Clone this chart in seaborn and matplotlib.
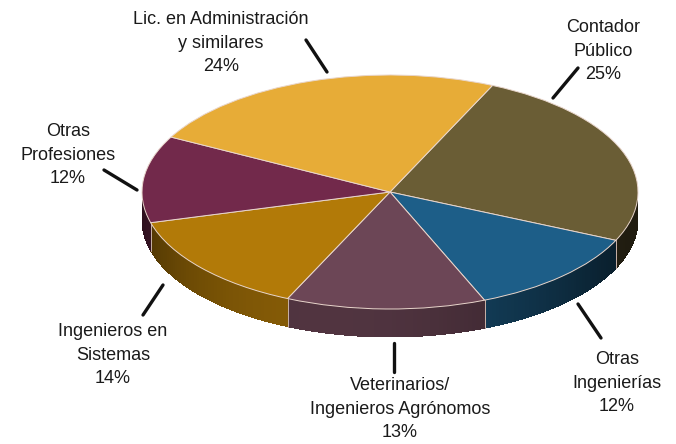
import numpy as np
import matplotlib
matplotlib.use("Agg")
import matplotlib.pyplot as plt
import seaborn as sns
from matplotlib.patches import Polygon

# datos
profesiones = ['Contador\nPúblico', 'Otras\nIngenierías', 'Veterinarios/\nIngenieros Agrónomos',
               'Ingenieros en\nSistemas', 'Otras\nProfesiones', 'Lic. en Administración\ny similares']
porcentajes = [25, 12, 13, 14, 12, 24]
colores = ['#6a5d35', '#1d5e88', '#6c4656', '#b27a08', '#72294b', '#e7ac37']

sns.set_theme(style='white')
plt.rcParams['font.family'] = ['Liberation Sans', 'DejaVu Sans']

W, H = 676, 444
cx, cy = 390, 192      # centro de la elipse (px)
rx, ry = 248, 117      # semiejes (px)
prof = 28 / ry         # grosor del pastel en unidades
inicio = 65.6

fig = plt.figure(figsize=(W / 100, H / 100), dpi=100)
ax = fig.add_axes([0, 0, 1, 1])

# pastel superior
wedges, _ = ax.pie(porcentajes, colors=colores, startangle=inicio, counterclock=False,
                   radius=1, center=(0, 0),
                   wedgeprops=dict(edgecolor='#e9d6cc', linewidth=0.7, zorder=3))

# paredes laterales (parte frontal)
fracs = np.array(porcentajes) / sum(porcentajes)
acum = np.concatenate([[0], np.cumsum(fracs)])
for i, col in enumerate(colores):
    a0 = inicio - 360 * acum[i]
    a1 = inicio - 360 * acum[i + 1]
    lo, hi = max(a1, -180), min(a0, 0)
    if lo >= hi:
        continue
    base = np.array(matplotlib.colors.to_rgb(col))
    ts = np.linspace(lo, hi, int((hi - lo) / 1.0) + 2)
    paso = ts[1] - ts[0]
    for t1, t2 in zip(ts[:-1], ts[1:]):
        tm = np.radians((t1 + t2) / 2)
        f = 0.3 + 0.45 * max(0, np.cos(tm - np.radians(-105))) ** 1.5
        tt = np.radians([t1, min(t2 + paso * 0.6, hi)])
        xs = np.cos(tt)
        ys = np.sin(tt)
        poly = [(xs[0], ys[0]), (xs[1], ys[1]), (xs[1], ys[1] - prof), (xs[0], ys[0] - prof)]
        ax.add_patch(Polygon(poly, closed=True, facecolor=base * f, edgecolor='none',
                             linewidth=0, antialiased=False, zorder=1))
    for a in (a0, a1):
        if -180 < a < 0:
            r = np.radians(a)
            ax.plot([np.cos(r), np.cos(r)], [np.sin(r), np.sin(r) - prof],
                    color='#c9b2a8', lw=0.6, zorder=2)

ax.set_aspect('auto')
ax.set_xlim(-cx / rx, (W - cx) / rx)
ax.set_ylim(-(H - cy) / ry, cy / ry)
ax.axis('off')

# etiquetas y líneas guía en px
ov = fig.add_axes([0, 0, 1, 1])
ov.set_xlim(0, W)
ov.set_ylim(H, 0)
ov.axis('off')

pos_texto = [(603, 51), (617, 383), (400, 409), (113, 355), (68, 155), (221, 43)]
guias = [((578, 68), (553, 98)), ((578, 304), (601, 338)), ((394, 343), (394, 372)),
         ((163, 285), (143, 315)), ((104, 170), (137, 190)), ((306, 40), (327, 72))]

for nombre, p, (x, y), (g0, g1) in zip(profesiones, porcentajes, pos_texto, guias):
    ov.text(x, y, f'{nombre}\n{p}%', ha='center', va='center', fontsize=13,
            color='#1a1a1a', linespacing=1.5)
    ov.plot([g0[0], g1[0]], [g0[1], g1[1]], color='#111111', lw=2.4)

fig.savefig('out.png', dpi=100)
